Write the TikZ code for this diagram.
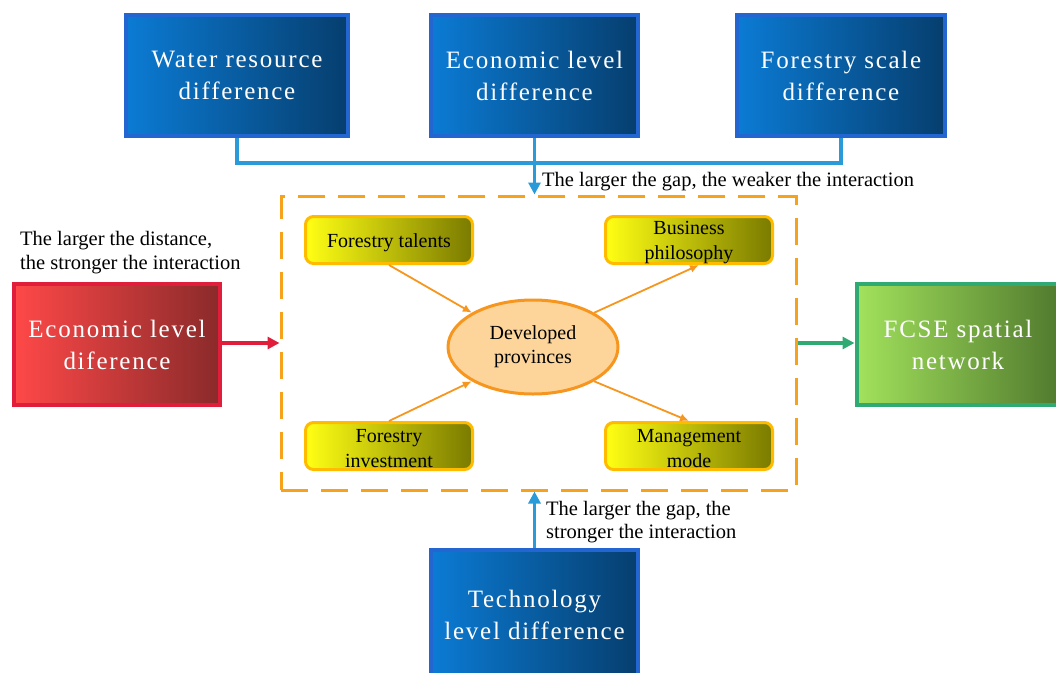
\documentclass[tikz,border=0pt]{standalone}
\usepackage{fontspec}
\setmainfont{Liberation Serif}
\newfontfamily\widefont[LetterSpace=7]{Liberation Serif}
\usetikzlibrary{arrows.meta,shapes.geometric,calc}
\definecolor{bborder}{HTML}{2366D1}
\definecolor{bleft}{HTML}{0B7BD4}
\definecolor{bright}{HTML}{063E6E}
\definecolor{lblue}{HTML}{2B9AD8}
\definecolor{dorange}{HTML}{F7A21B}
\definecolor{yborder}{HTML}{FFBB00}
\definecolor{yleft}{HTML}{FFFF14}
\definecolor{yright}{HTML}{7A7A00}
\definecolor{efill}{HTML}{FDD59B}
\definecolor{eborder}{HTML}{F7961E}
\definecolor{rborder}{HTML}{E01E3C}
\definecolor{rleft}{HTML}{FF4848}
\definecolor{rright}{HTML}{8A2A2A}
\definecolor{gborder}{HTML}{2FAA72}
\definecolor{gleft}{HTML}{A2E25C}
\definecolor{gright}{HTML}{517A2E}
\begin{document}
\begin{tikzpicture}[x=1pt,y=-1pt,
  bigbox/.style={draw=bborder,line width=4pt,left color=bleft,right color=bright,
    text=white,font=\widefont\fontsize{25}{32}\selectfont,align=center,inner sep=0pt},
  ybox/.style={draw=yborder,line width=3pt,rounded corners=8pt,left color=yleft,right color=yright,
    minimum width=167pt,minimum height=47pt,inner sep=0pt,
    label={[ytext]center:{#1}}},
  ytext/.style={font=\fontsize{20}{25}\selectfont,align=center,inner sep=0pt,yshift=-3pt},
  blueline/.style={draw=lblue,line width=3.5pt},
  oarrow/.style={draw=eborder,line width=1.8pt,-{Latex[length=9pt,width=8pt]}},
  lbl/.style={font=\fontsize{20.5}{23.5}\selectfont,align=left,inner sep=0pt}
]
\useasboundingbox (0,0) rectangle (1056,672);

% top boxes
\node[bigbox,minimum width=222pt,minimum height=121pt] (water) at (237,75.5) {Water resource\\difference};
\node[bigbox,minimum width=207pt,minimum height=121pt] (econ) at (534.5,75.5) {Economic level\\difference};
\node[bigbox,minimum width=208pt,minimum height=121pt] (forest) at (841,75.5) {Forestry scale\\difference};

% dashed box
\node[draw=dorange,line width=3pt,dash pattern=on 27pt off 13pt,minimum width=515pt,minimum height=294pt,inner sep=0pt] (dash) at (538.5,343) {};

% connectors from top
\coordinate (junc) at (535,163);
\draw[blueline] (water.south) |- (junc);
\draw[blueline] (forest.south) |- (junc);
\draw[blueline,-{Triangle[length=12pt,width=12pt]}] (econ.south) -- (econ.south |- dash.north);
\node[lbl,anchor=west] (lab1) at (542,182) {The larger the gap, the weaker the interaction};

% inner nodes
\node[draw=eborder,line width=3pt,fill=efill,ellipse,minimum width=170pt,minimum height=94pt,inner sep=0pt,
  font=\fontsize{20}{24}\selectfont,align=center] (ell) at (533,347) {Developed\\provinces};
\node[ybox={Forestry talents}] (talent) at (389,240) {};
\node[ybox={Business\\philosophy}] (biz) at (689,240) {};
\node[ybox={Forestry\\investment}] (invest) at (389,446) {};
\node[ybox={Management\\mode}] (mgmt) at (689,446) {};
\draw[oarrow] (talent.south) -- (ell.north west);
\draw[oarrow] (ell.north east) -- ($(biz.south)+(10,0)$);
\draw[oarrow] (invest.north) -- (ell.south west);
\draw[oarrow] (ell.south east) -- (mgmt.north);

% left red
\node[draw=rborder,line width=4pt,left color=rleft,right color=rright,minimum width=206pt,minimum height=121pt,
  text=white,font=\widefont\fontsize{25}{32}\selectfont,align=center,inner sep=0pt] (red) at (117,344.5) {Economic level\\diference};
\draw[draw=rborder,line width=3.5pt,-{Triangle[length=12pt,width=12pt]}] (red.east |- dash.west) -- (dash.west);
\node[lbl,anchor=west] (lab2) at (20,252.5) {The larger the distance,\\the stronger the interaction};

% right green
\node[draw=gborder,line width=4pt,left color=gleft,right color=gright,minimum width=203pt,minimum height=121pt,
  text=white,font=\widefont\fontsize{25}{32}\selectfont,align=center,inner sep=0pt] (green) at (958,344.5) {FCSE spatial\\network};
\draw[draw=gborder,line width=3.5pt,-{Triangle[length=12pt,width=12pt]}] (dash.east) -- (dash.east -| green.west);

% bottom
\node[bigbox,minimum width=207pt,minimum height=130pt] (tech) at (534.5,615) {Technology\\level difference};
\draw[blueline,-{Triangle[length=12pt,width=12pt]}] (tech.north) -- (tech.north |- dash.south);
\node[lbl,anchor=west] (lab3) at (546,522) {The larger the gap, the\\stronger the interaction};
\end{tikzpicture}
\end{document}
